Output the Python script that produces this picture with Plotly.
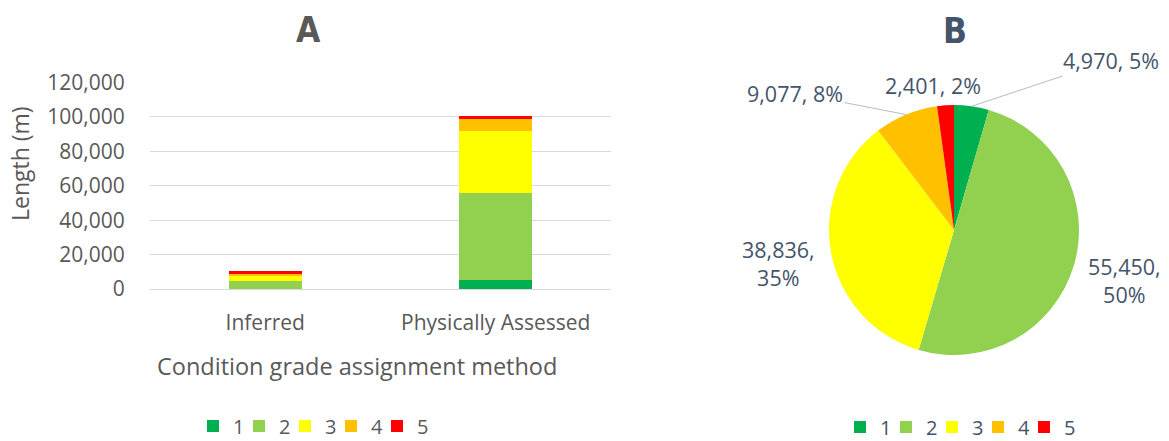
import numpy as np
import plotly.graph_objects as go

W, H = 1169, 441
OX, OY = 8, 8  # page body margin offset of the plot inside the browser window

# ---------------- data ----------------
grades = ["1", "2", "3", "4", "5"]
colors = ["#00B050", "#92D050", "#FFFF00", "#FFC000", "#FF0000"]
methods = ["Inferred", "Physically Assessed"]
inferred = [0, 4600, 2900, 1300, 1500]
physical = [4970, 50850, 35936, 7777, 901]
pie_values = [4970, 55450, 38836, 9077, 2401]
pie_pct_labels = ["5%", "50%", "35%", "8%", "2%"]
y_ticks = [0, 20000, 40000, 60000, 80000, 100000, 120000]

FONT = "Open Sans, Noto Sans, sans-serif"
TITLE_FONT = "DejaVu Sans Condensed, Liberation Sans Narrow, sans-serif"
GREY = "#595959"
SLATE = "#44546A"


def px_x(x):
    return (x - OX) / W


def px_y(y):
    return 1 - (y - OY) / H


fig = go.Figure()

for i, g in enumerate(grades):
    fig.add_trace(go.Bar(
        x=methods, y=[inferred[i], physical[i]], name=g,
        marker=dict(color=colors[i], line=dict(width=0)),
        legend="legend", hoverinfo="x+y+name",
    ))

# pie geometry (pixels in the window)
pcx, pcy, pr = 954, 230, 125
fig.add_trace(go.Pie(
    labels=grades, values=pie_values, sort=False, direction="clockwise",
    rotation=0, marker=dict(colors=colors, line=dict(width=0)),
    textinfo="none", legend="legend2", showlegend=True,
    domain=dict(x=[px_x(pcx - pr), px_x(pcx + pr)],
                y=[px_y(pcy + pr), px_y(pcy - pr)]),
))

# empty, invisible legend spacers so the last legend label is not clipped
for lg in ["legend", "legend2"]:
    fig.add_trace(go.Bar(x=[None], y=[None], name=" ", legend=lg, showlegend=True,
                         opacity=0, marker=dict(color="rgba(0,0,0,0)", line=dict(width=0)),
                         hoverinfo="skip"))

legend_common = dict(orientation="h", yanchor="middle", itemwidth=30, entrywidth=1,
                     traceorder="normal", bgcolor="rgba(0,0,0,0)", borderwidth=0,
                     itemclick=False, itemdoubleclick=False)

fig.update_layout(
    width=W, height=H,
    margin=dict(l=0, r=0, t=0, b=0, autoexpand=False),
    paper_bgcolor="white", plot_bgcolor="white",
    font=dict(family=FONT, size=21, color=GREY),
    barmode="stack", bargap=0.683,
    xaxis=dict(domain=[px_x(150), px_x(611)], showgrid=False, zeroline=False,
               showline=False, ticks="outside", ticklen=15, tickcolor="rgba(0,0,0,0)",
               tickfont=dict(size=21, color=GREY)),
    yaxis=dict(domain=[px_y(289), px_y(82.5)], range=[0, 120000],
               tickvals=y_ticks, tickformat=",", showgrid=True,
               gridcolor="#D9D9D9", gridwidth=1, zeroline=True,
               zerolinecolor="#D9D9D9", zerolinewidth=1, showline=False,
               ticks="outside", ticklen=20, tickcolor="rgba(0,0,0,0)",
               tickfont=dict(size=21, color=GREY)),
    legend=dict(x=px_x(331), xanchor="center", y=px_y(426),
                font=dict(size=20, color=GREY), **legend_common),
    legend2=dict(x=px_x(978), xanchor="center", y=px_y(427),
                 font=dict(size=20, color=SLATE), **legend_common),
)

ann = []
# titles
ann.append(dict(text="<b>A</b>", x=px_x(308), y=px_y(30), xref="paper", yref="paper",
                xanchor="center", yanchor="middle", showarrow=False,
                font=dict(family=TITLE_FONT, size=35, color=GREY)))
ann.append(dict(text="<b>B</b>", x=px_x(955), y=px_y(31), xref="paper", yref="paper",
                xanchor="center", yanchor="middle", showarrow=False,
                font=dict(family=TITLE_FONT, size=35, color=SLATE)))
# axis titles
ann.append(dict(text="Length (m)", x=px_x(20), y=px_y(164), xref="paper", yref="paper",
                xanchor="center", yanchor="middle", textangle=-90, showarrow=False,
                font=dict(size=23, color=GREY)))
ann.append(dict(text="Condition grade assignment method", x=px_x(357), y=px_y(366),
                xref="paper", yref="paper", xanchor="center", yanchor="middle",
                showarrow=False, font=dict(size=23.5, color=GREY)))

# pie labels
total = sum(pie_values)
cum = np.cumsum([0] + pie_values)
mid_frac = [(cum[i] + pie_values[i] / 2) / total for i in range(len(pie_values))]
labels_txt = [f"{v:,}, {p}" for v, p in zip(pie_values, pie_pct_labels)]
labels_txt[1] = f"{pie_values[1]:,},<br>{pie_pct_labels[1]}"
labels_txt[2] = f"{pie_values[2]:,},<br>{pie_pct_labels[2]}"
label_pos = {0: (1111, 60), 1: (1124, 280), 2: (778, 263), 3: (795, 93), 4: (933, 85)}
with_leader = {0, 3}
for i, txt in enumerate(labels_txt):
    tx, ty = label_pos[i]
    if i in with_leader:
        ang = 2 * np.pi * mid_frac[i]
        ex = pcx + pr * np.sin(ang)
        ey = pcy - pr * np.cos(ang)
        ann.append(dict(text=txt, x=px_x(ex), y=px_y(ey), xref="paper", yref="paper",
                        showarrow=True, arrowhead=0, arrowwidth=1, arrowcolor="#B4BCC8",
                        ax=tx - ex, ay=ty - ey, standoff=0, startstandoff=0,
                        font=dict(size=21.5, color=SLATE)))
    else:
        ann.append(dict(text=txt, x=px_x(tx), y=px_y(ty), xref="paper", yref="paper",
                        xanchor="center", yanchor="middle", showarrow=False,
                        font=dict(size=21.5, color=SLATE)))

fig.update_layout(annotations=ann)
fig.write_html("out.html")
